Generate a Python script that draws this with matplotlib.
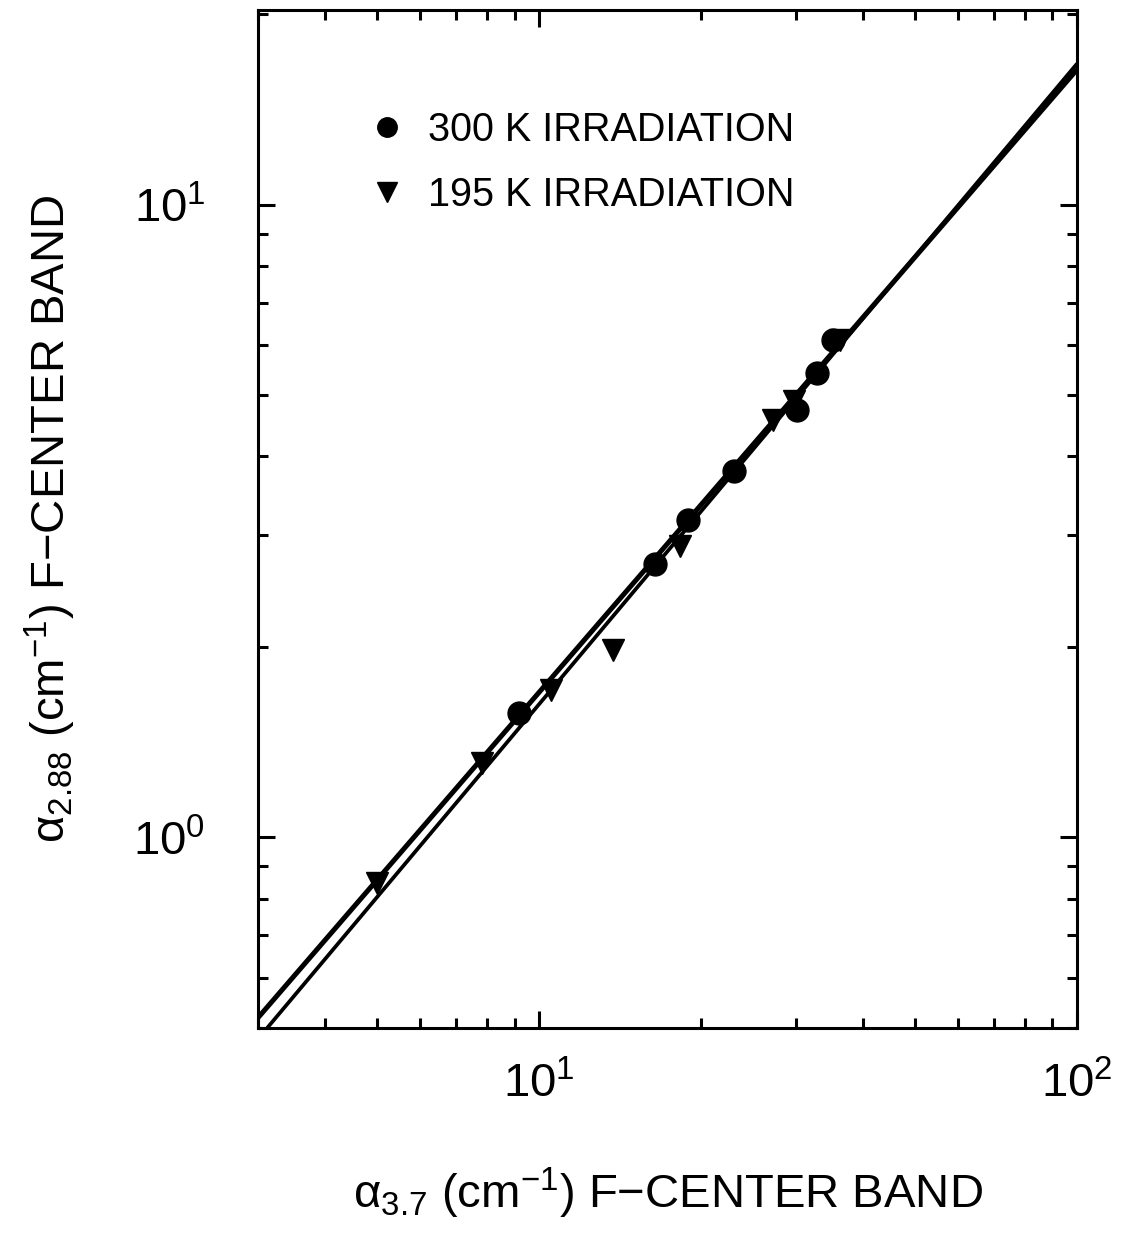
import matplotlib
matplotlib.use("Agg")
import matplotlib.pyplot as plt
from matplotlib.lines import Line2D

plt.rcParams['font.family'] = ['Liberation Sans', 'DejaVu Sans']
plt.rcParams['mathtext.fontset'] = 'custom'
plt.rcParams['mathtext.rm'] = 'Liberation Sans'
plt.rcParams['mathtext.it'] = 'Liberation Sans:italic'
plt.rcParams['mathtext.default'] = 'regular'

# absorption coefficients (cm^-1): 3.7 eV band vs 2.88 eV band
x_300k = [9.18, 16.4, 18.9, 23.0, 30.1, 32.9, 35.1]
y_300k = [1.57, 2.70, 3.17, 3.80, 4.73, 5.41, 6.10]

x_195k = [4.99, 7.83, 10.5, 13.7, 18.3, 27.2, 29.7, 36.2]
y_195k = [0.846, 1.31, 1.71, 1.98, 2.89, 4.56, 4.90, 6.10]

# straight-line fits on log-log axes (end points)
fit_300k_x = [3.0, 100.0]
fit_300k_y = [0.519, 16.35]
fit_195k_x = [3.12, 100.0]
fit_195k_y = [0.50, 16.70]

fig = plt.figure(figsize=(11.21, 12.33), dpi=100)
ax = fig.add_axes([0.2302, 0.1663, 0.7306, 0.8256])

ax.plot(fit_300k_x, fit_300k_y, color='black', lw=3.6, solid_capstyle='butt')
ax.plot(fit_195k_x, fit_195k_y, color='black', lw=2.7, solid_capstyle='butt')

ax.plot(x_300k, y_300k, linestyle='none', marker='o', ms=16.5, color='black')
ax.plot(x_195k, y_195k, linestyle='none', marker='v', ms=16, color='black')

ax.set_xscale('log')
ax.set_yscale('log')
ax.set_xlim(3.0, 100.0)
ax.set_ylim(0.5, 20.3)

for s in ax.spines.values():
    s.set_linewidth(2.2)
ax.tick_params(which='both', direction='in', top=True, right=True, width=2.2)
ax.tick_params(which='major', length=12)
ax.tick_params(which='minor', length=7)
ax.tick_params(axis='x', which='major', labelsize=34, pad=25)
ax.tick_params(axis='y', which='major', labelsize=34, pad=38)
ax.tick_params(which='minor', labelleft=False, labelbottom=False)

ax.set_xlabel(r'$\alpha_{3.7}$ (cm$^{-1}$) F$-$CENTER BAND', fontsize=34, labelpad=42)
ax.set_ylabel(r'$\alpha_{2.88}$ (cm$^{-1}$) F$-$CENTER BAND', fontsize=34, labelpad=40)

handles = [
    Line2D([], [], linestyle='none', marker='o', ms=14, color='black', label='300 K IRRADIATION'),
    Line2D([], [], linestyle='none', marker='v', ms=14, color='black', label='195 K IRRADIATION'),
]
ax.legend(handles=handles, loc='upper left', bbox_to_anchor=(0.091, 0.936), frameon=False,
          fontsize=28.5, handlelength=0.95, handletextpad=0.55, labelspacing=0.68)

fig.savefig('out.png', dpi=100)
